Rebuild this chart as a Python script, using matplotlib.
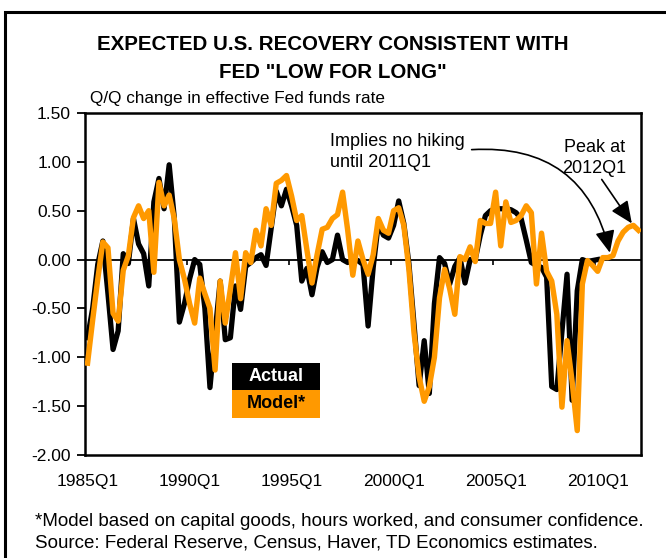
import matplotlib
matplotlib.use("Agg")
import matplotlib.pyplot as plt
import matplotlib.patches as mpatches
from matplotlib.ticker import FormatStrFormatter
import numpy as np

plt.rcParams['font.family'] = ['Liberation Sans', 'DejaVu Sans']
plt.rcParams['axes.unicode_minus'] = False

# quarterly data, 1985Q1 .. 2012Q1
start_year = 1985
actual = [
    -0.80, -0.50, -0.05, 0.19, -0.35, -0.92, -0.73, 0.06, -0.04, 0.42,
    0.16, 0.06, -0.27, 0.59, 0.83, 0.52, 0.97, 0.43, -0.64, -0.45,
    -0.20, 0.00, -0.05, -0.50, -1.31, -0.75, -0.22, -0.82, -0.80, -0.27,
    -0.51, -0.07, -0.03, 0.02, 0.05, -0.06, 0.32, 0.70, 0.55, 0.72,
    0.55, 0.35, -0.22, -0.09, -0.36, -0.08, 0.08, -0.03, 0.00, 0.25,
    0.00, -0.03, 0.00, -0.01, -0.05, -0.68, -0.08, 0.37, 0.25, 0.22,
    0.35, 0.60, 0.37, -0.04, -0.66, -1.29, -0.83, -1.37, -0.45, 0.02,
    -0.04, -0.25, -0.07, 0.02, -0.24, 0.00, 0.00, 0.25, 0.45, 0.50,
    0.52, 0.52, 0.52, 0.51, 0.48, 0.42, 0.20, -0.03, -0.06, -0.08,
    -0.18, -1.30, -1.33, -0.74, -0.15, -1.44, -0.32, 0.00, -0.02, -0.01,
    0.00,
]
model = [
    -1.06, -0.62, -0.20, 0.18, 0.12, -0.55, -0.63, -0.11, 0.04, 0.43,
    0.55, 0.42, 0.50, -0.13, 0.79, 0.55, 0.66, 0.42, 0.00, -0.20,
    -0.45, -0.65, -0.19, -0.35, -0.50, -1.13, -0.22, -0.65, -0.30, 0.07,
    -0.40, 0.07, -0.03, 0.30, 0.14, 0.52, 0.35, 0.78, 0.81, 0.86,
    0.65, 0.40, 0.45, 0.10, -0.24, 0.05, 0.31, 0.33, 0.42, 0.46,
    0.69, 0.30, -0.16, 0.19, 0.00, -0.15, 0.05, 0.42, 0.30, 0.27,
    0.50, 0.53, 0.35, -0.10, -0.75, -1.20, -1.45, -1.30, -1.00, -0.39,
    -0.10, -0.30, -0.56, 0.03, 0.00, 0.13, -0.02, 0.40, 0.37, 0.37,
    0.69, 0.14, 0.59, 0.38, 0.40, 0.45, 0.55, 0.48, -0.25, 0.27,
    -0.12, -0.22, -0.56, -1.51, -0.83, -1.25, -1.75, -0.25, -0.01, -0.06,
    -0.12, 0.02, 0.02, 0.04, 0.19, 0.28, 0.33, 0.35, 0.30,
]
series_names = ["Actual", "Model*"]
tick_every = 20

n = len(model)
labels = [f"{start_year + i // 4}Q{i % 4 + 1}" for i in range(n)]
x = np.arange(n)
xa = np.arange(len(actual))

fig = plt.figure(figsize=(6.66, 5.58), dpi=100)
ax = fig.add_axes([85 / 666, 1 - 455 / 558, 556 / 666, 342 / 558])

orange = '#FF9900'
ax.axhline(0, color='black', lw=1.3, zorder=1)
ax.vlines(np.arange(tick_every, n, tick_every) - 0.5, -0.055, 0, color='black', lw=1.2, zorder=1)
ax.plot(xa, actual, color='black', lw=3.8, solid_joinstyle='round', zorder=2)
ax.plot(x, model, color=orange, lw=3.9, solid_joinstyle='round', zorder=3)

ax.set_xlim(-0.5, n - 0.5)
ax.set_ylim(-2.0, 1.5)
ax.set_yticks(np.arange(-2.0, 1.51, 0.5))
ax.yaxis.set_major_formatter(FormatStrFormatter('%.2f'))
ax.set_xticks(x[::tick_every])
ax.set_xticklabels(labels[::tick_every])
ax.tick_params(axis='x', length=0, pad=14, labelsize=12.5)
ax.tick_params(axis='y', direction='out', length=6, width=1.3, pad=4, labelsize=12.5)
for s in ax.spines.values():
    s.set_linewidth(1.8)

# annotations
ax.text(47.5, 1.105, "Implies no hiking\nuntil 2011Q1", fontsize=13, ha='left', va='center',
        linespacing=1.3)
ax.annotate('', xy=(102.4, 0.07), xytext=(75.3, 1.125),
            arrowprops=dict(arrowstyle='-|>,head_length=0.9,head_width=0.4', color='black',
                            lw=1.2, connectionstyle='arc3,rad=-0.42', shrinkA=0, shrinkB=0,
                            mutation_scale=15))
ax.text(99.4, 1.035, "Peak at\n2012Q1", fontsize=13, ha='center', va='center', linespacing=1.3)
ax.annotate('', xy=(106.7, 0.37), xytext=(100.8, 0.82),
            arrowprops=dict(arrowstyle='-|>,head_length=0.9,head_width=0.4', color='black',
                            lw=1.2, shrinkA=0, shrinkB=0, mutation_scale=15))

# legend boxes
lx, lw_ = 232 / 666, 88 / 666
fig.add_artist(mpatches.Rectangle((lx, 1 - 390 / 558), lw_, 27 / 558, transform=fig.transFigure,
                                  facecolor='black', edgecolor='none'))
fig.add_artist(mpatches.Rectangle((lx, 1 - 418 / 558), lw_, 28 / 558, transform=fig.transFigure,
                                  facecolor=orange, edgecolor='none'))
fig.text(lx + lw_ / 2, 1 - 376.5 / 558, series_names[0], color='white', fontsize=13,
         fontweight='bold', ha='center', va='center')
fig.text(lx + lw_ / 2, 1 - 404 / 558, series_names[1], color='black', fontsize=13,
         fontweight='bold', ha='center', va='center')

# titles and notes
fig.text(0.5, 1 - 44 / 558, "EXPECTED U.S. RECOVERY CONSISTENT WITH", fontsize=14.8,
         fontweight='bold', ha='center', va='center')
fig.text(0.5, 1 - 73 / 558, 'FED "LOW FOR LONG"', fontsize=14.8, fontweight='bold',
         ha='center', va='center')
fig.text(90 / 666, 1 - 98 / 558, "Q/Q change in effective Fed funds rate", fontsize=12.3,
         ha='left', va='center')
fig.text(35 / 666, 1 - 521 / 558,
         "*Model based on capital goods, hours worked, and consumer confidence.",
         fontsize=13.5, ha='left', va='center')
fig.text(35 / 666, 1 - 543 / 558, "Source: Federal Reserve, Census, Haver, TD Economics estimates.",
         fontsize=13.5, ha='left', va='center')

# outer frame
fig.add_artist(mpatches.Rectangle((5 / 666, -0.1), 1.2, 1.1 - 12 / 558, transform=fig.transFigure,
                                  facecolor='none', edgecolor='black', lw=2.2))

fig.savefig("out.png", dpi=100)
